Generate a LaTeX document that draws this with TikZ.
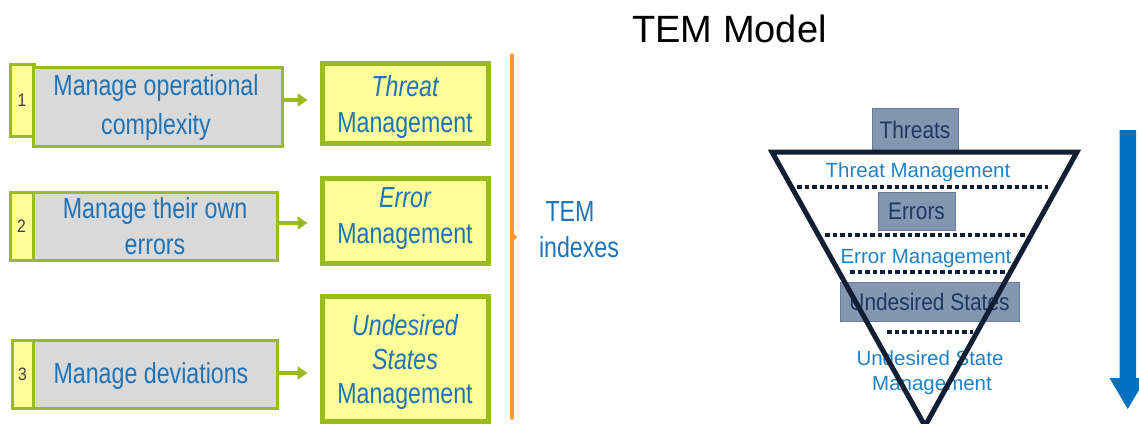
\documentclass[tikz,border=0pt]{standalone}
\usepackage{fontspec}
\setmainfont{Liberation Sans}
\newfontfamily\narrowsans[FakeStretch=0.8]{Liberation Sans}
\newfontfamily\tagsans[FakeStretch=0.87]{Liberation Sans}
\usetikzlibrary{arrows.meta}

\definecolor{tgreen}{RGB}{153,187,28}
\definecolor{tyellow}{RGB}{255,255,153}
\definecolor{tgray}{RGB}{217,217,217}
\definecolor{tblue}{RGB}{31,115,183}
\definecolor{torange}{RGB}{247,150,50}
\definecolor{navy}{RGB}{18,30,52}
\definecolor{sfill}{RGB}{132,151,176}
\definecolor{sborder}{RGB}{100,125,155}
\definecolor{sdark}{RGB}{31,56,100}
\definecolor{zblue}{RGB}{30,130,200}
\definecolor{dblue}{RGB}{0,112,192}

\begin{document}
\begin{tikzpicture}[x=1pt,y=-1pt,
  tabbox/.style={draw=tgreen, line width=3pt, fill=tyellow, inner sep=0pt,
    font=\tagsans\fontsize{18}{20}\selectfont, text=black!75},
  taskbox/.style={draw=tgreen, line width=3pt, fill=tgray, inner sep=0pt},
  mgmtbox/.style={draw=tgreen, line width=5pt, fill=tyellow, inner sep=0pt},
  boxtext/.style={font=\narrowsans\fontsize{29}{36}\selectfont, text=tblue,
    anchor=base, inner sep=0pt},
  flow/.style={draw=tgreen, line width=4pt,
    -{Triangle[width=13pt,length=10pt]}, shorten >=12pt},
  statebox/.style={draw=sborder, line width=1pt, fill=sfill, inner sep=0pt,
    font=\tagsans\fontsize{24}{26}\selectfont, text=sdark},
  zonetext/.style={font=\fontsize{20.5}{24}\selectfont, text=zblue,
    anchor=base, inner sep=0pt},
  sep/.style={draw=navy, line width=4.5pt, dash pattern=on 4.5pt off 3pt}]

\useasboundingbox (0,0) rectangle (1139,423);

% ---- left: tasks and their management ----
\node[tabbox, minimum width=24pt, minimum height=72pt] (tab1) at (22,100) {1};
\node[taskbox, minimum width=249pt, minimum height=79pt] (task1) at (157.5,106.5) {};
\node[boxtext] (task1a) at (156,95) {Manage operational};
\node[boxtext] (task1b) at (156,134) {complexity};

\node[tabbox, minimum width=23pt, minimum height=68pt] (tab2) at (21.5,226) {2};
\node[taskbox, minimum width=244pt, minimum height=68pt] (task2) at (155,226) {};
\node[boxtext] (task2a) at (155,218) {Manage their own};
\node[boxtext] (task2b) at (155,254) {errors};

\node[tabbox, minimum width=21pt, minimum height=68pt] (tab3) at (22.5,374) {3};
\node[taskbox, minimum width=244pt, minimum height=68pt] (task3) at (155,374) {};
\node[boxtext] (task3a) at (151,383) {Manage deviations};

\node[mgmtbox, minimum width=166pt, minimum height=80pt] (tm) at (405,103) {};
\node[boxtext] (tma) at (405,96) {\itshape Threat};
\node[boxtext] (tmb) at (405,132) {Management};

\node[mgmtbox, minimum width=166pt, minimum height=85pt] (em) at (405,220.5) {};
\node[boxtext] (ema) at (405,207) {\itshape Error};
\node[boxtext] (emb) at (405,243) {Management};

\node[mgmtbox, minimum width=166pt, minimum height=125pt] (um) at (405,358.5) {};
\node[boxtext] (uma) at (405,335) {\itshape Undesired};
\node[boxtext] (umb) at (405,369) {\itshape States};
\node[boxtext] (umc) at (405,403) {Management};

\draw[flow] ([yshift=6.5pt]task1.east) -- ([yshift=6.5pt]task1.east -| tm.west);
\draw[flow] ([yshift=3pt]task2.east) -- ([yshift=3pt]task2.east -| em.west);
\draw[flow] ([yshift=1pt]task3.east) -- ([yshift=1pt]task3.east -| um.west);

% ---- bracket and its label ----
\coordinate (brtop) at (512,55);
\coordinate (brbot) at (512,418);
\coordinate (brmid) at (512,237);
\draw[torange, line width=3.5pt, line cap=round] (brtop) -- (brbot);
\fill[torange] ([yshift=5pt]brmid) -- ([xshift=5pt]brmid) -- ([yshift=-5pt]brmid) -- cycle;
\node[boxtext] (idx1) at (570,221) {TEM};
\node[boxtext] (idx2) at (579,257) {indexes};

% ---- right: the TEM funnel ----
\node[font=\fontsize{38}{40}\selectfont, anchor=base, inner sep=0pt] (title) at (729.5,42) {TEM Model};

\node[statebox, minimum width=86pt, minimum height=44pt] (threats) at (915,130) {Threats};
\node[statebox, minimum width=77pt, minimum height=38pt] (errors) at (916.5,211) {Errors};
\node[statebox, minimum width=179pt, minimum height=39pt] (states) at (929.5,301.5) {Undesired States};

\node[zonetext] (zone1) at (918,177) {Threat Management};
\node[zonetext] (zone2) at (926,263) {Error Management};
\node[zonetext] (zone3a) at (930,365) {Undesired State};
\node[zonetext] (zone3b) at (932,390) {Management};

\draw[sep] (797,187) -- (1048,187);
\draw[sep] (825,235) -- (1027,235);
\draw[sep] (850,272) -- (1008,272);
\draw[sep] (887,332) -- (973,332);

\coordinate (ftl) at (772,152);
\coordinate (ftr) at (1077,152);
\coordinate (fbot) at (925,426);
\draw[navy, line width=5pt, line join=miter] (ftl) -- (ftr) -- (fbot) -- cycle;

% ---- downward arrow ----
\fill[dblue] (1119.5,130) -- (1136,130) -- (1136,378) -- (1146,378)
  -- (1127.75,409) -- (1109.5,378) -- (1119.5,378) -- cycle;
\end{tikzpicture}
\end{document}
